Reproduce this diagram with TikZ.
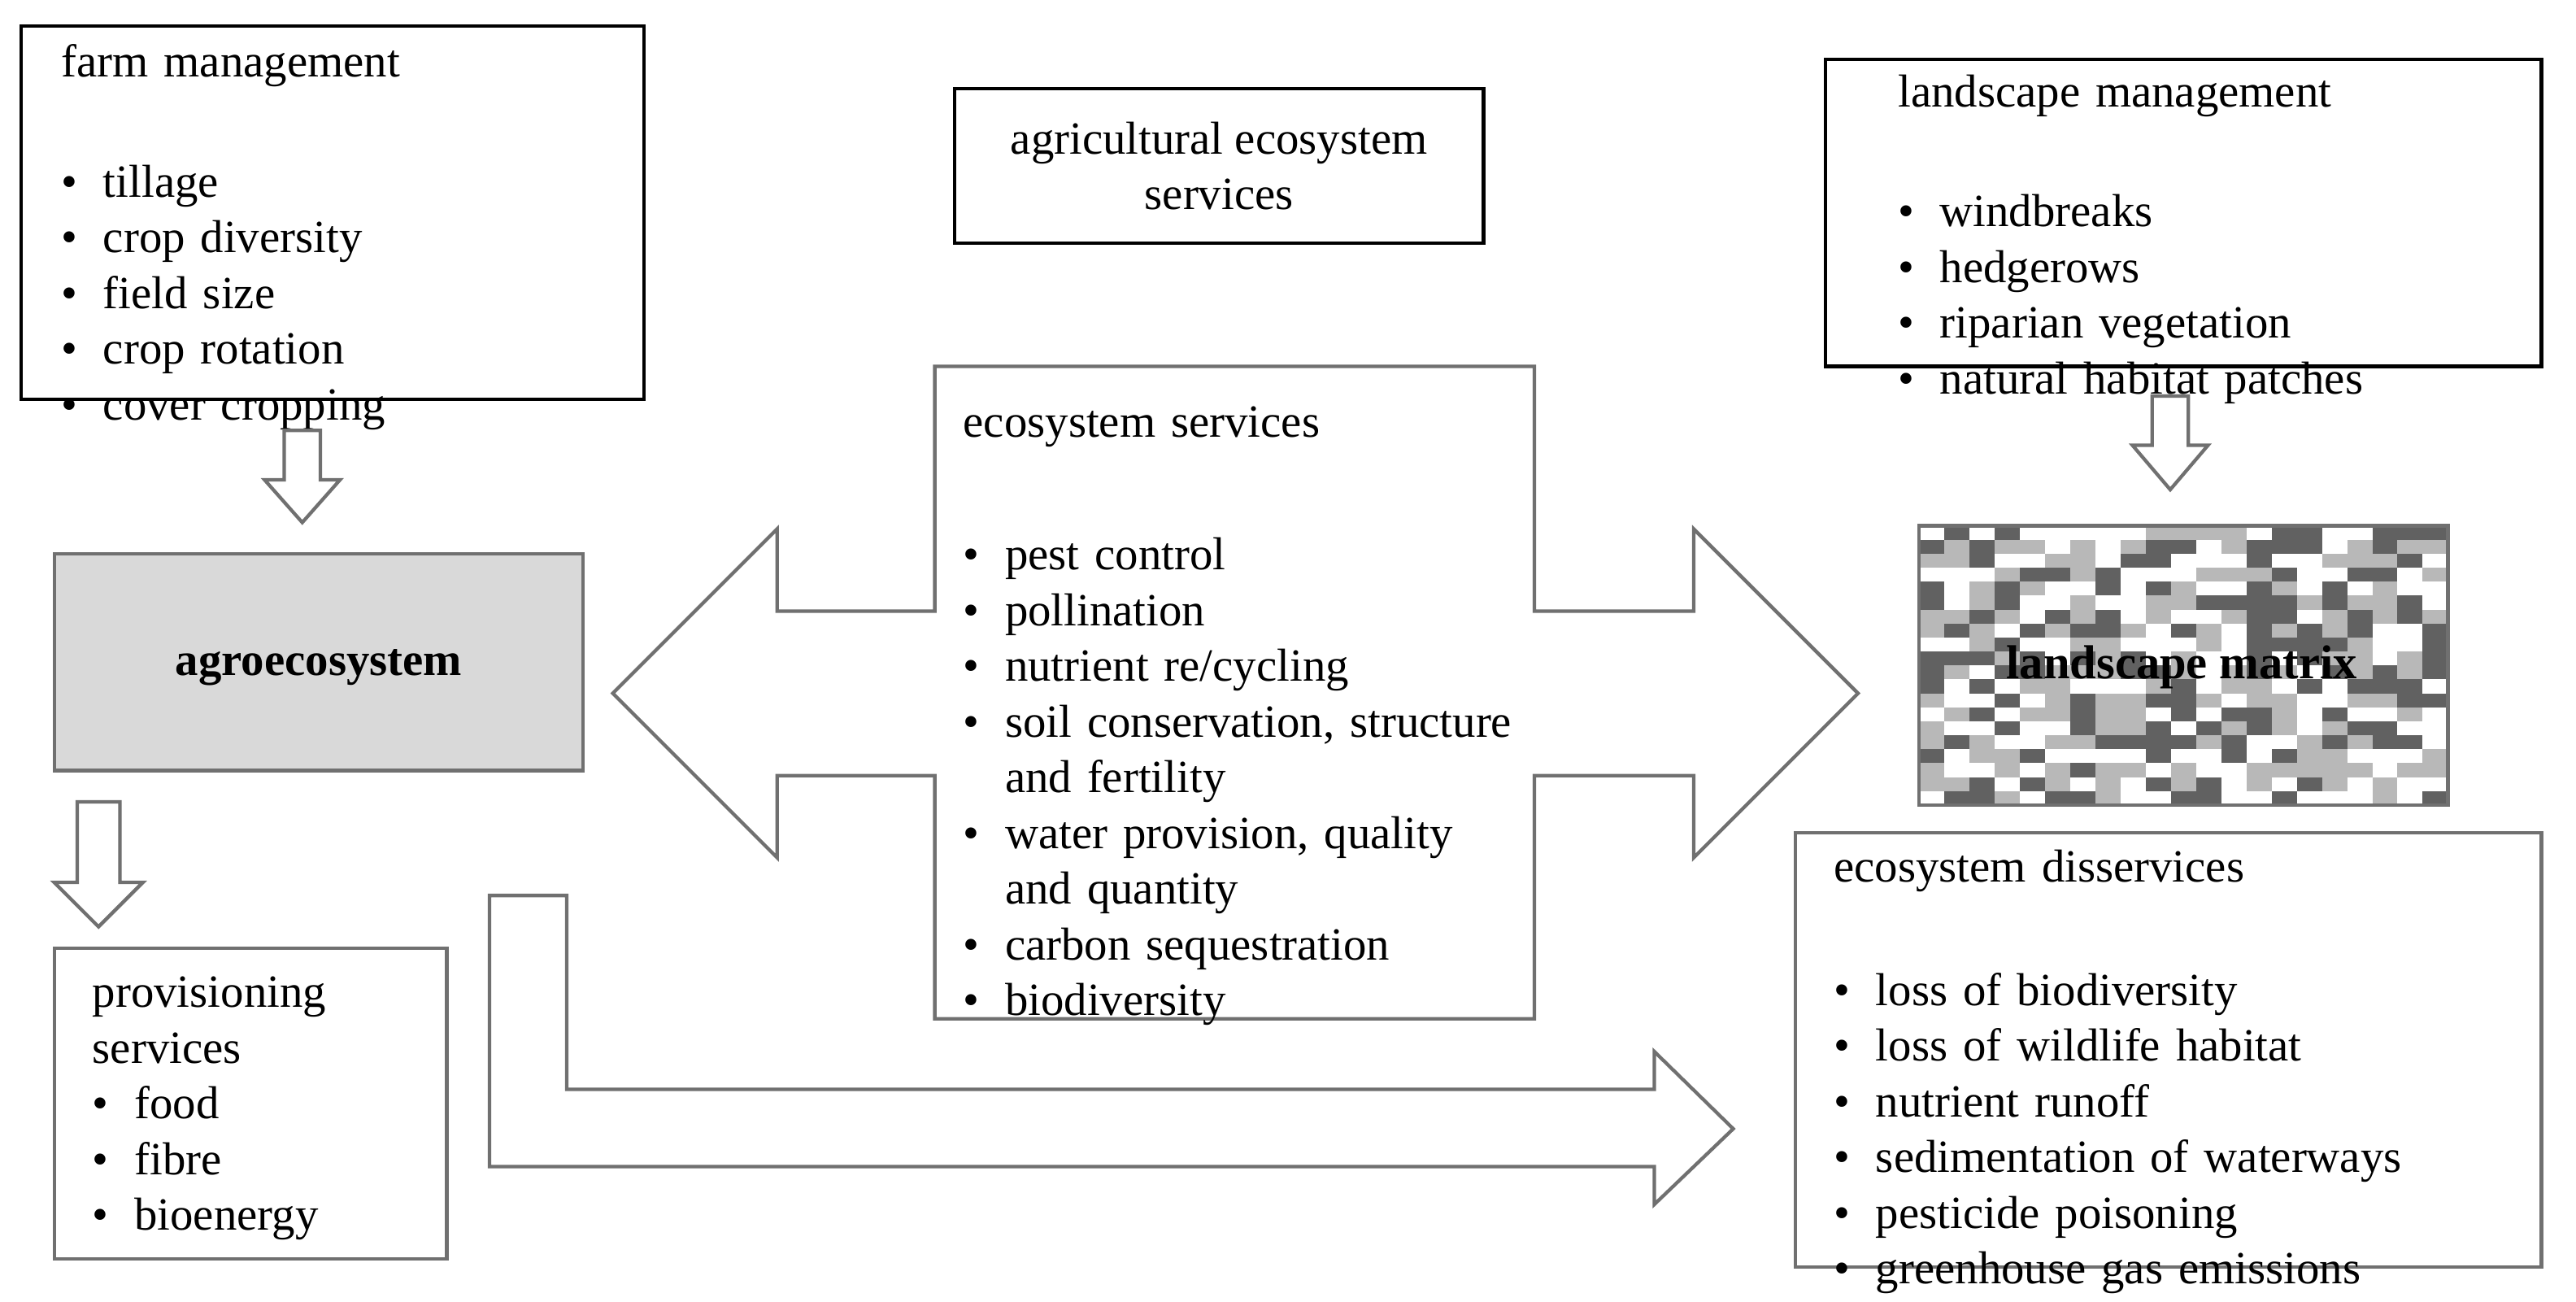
\documentclass[tikz,border=0pt]{standalone}
\usepackage{fontspec}
\setmainfont{Liberation Serif}
\usetikzlibrary{positioning, calc}
\definecolor{edgegray}{HTML}{707070}
\tikzset{
  blackbox/.style = {draw=black, line width=1.2pt},
  graybox/.style = {draw=edgegray, line width=1.2pt},
  txt/.style = {anchor=base west, inner sep=0pt, align=left, text width=9cm,
                font=\fontsize{16pt}{19.3pt}\selectfont},
  bigarrow/.style = {draw=edgegray, line width=1.2pt, fill=white, line join=miter}
}
\newcommand{\itm}[1]{\par\hangindent=14.5pt\leavevmode\hbox to 14.5pt{\textbullet\hfil}#1}

\begin{document}
\begin{tikzpicture}[x=0.02cm, y=-0.02cm]
  \useasboundingbox (0,0) rectangle (1568,792.4);

  % Top boxes
  \draw [blackbox] (13,16) rectangle (392,243);
  \node (farmtitle) [txt] at (37,47) {farm management};
  \node (farmlist) [txt] at (37,86) {\itm{tillage}\itm{crop diversity}\itm{field size}\itm{crop rotation}\itm{cover cropping}};

  \draw [blackbox] (581,54) rectangle (903,148);
  \node (agri) [align=center, inner sep=0pt, font=\fontsize{16pt}{19.3pt}\selectfont] at (742,101) {agricultural ecosystem\\services};

  \draw [blackbox] (1111,36) rectangle (1547,223);
  \node (landtitle) [txt] at (1155,65) {landscape management};
  \node (landlist) [txt] at (1155,104) {\itm{windbreaks}\itm{hedgerows}\itm{riparian vegetation}\itm{natural habitat patches}};

  % Down arrows
  \draw [bigarrow] (173,262) -- (195,262) -- (195,292) -- (207,292) -- (184,318) -- (161,292) -- (173,292) -- cycle;
  \draw [bigarrow] (1310,241) -- (1332,241) -- (1332,271) -- (1344,271) -- (1321,298) -- (1298,271) -- (1310,271) -- cycle;
  \draw [bigarrow] (47,488) -- (73,488) -- (73,537) -- (87,537) -- (60,564) -- (33,537) -- (47,537) -- cycle;

  % Agroecosystem
  \draw [graybox, fill=black!15] (33,337) rectangle (355,469);
  \node (agro) [font=\fontsize{16pt}{19.3pt}\selectfont\bfseries] at (194,406) {agroecosystem};

  % Central double arrow
  \draw [bigarrow] (569,223) -- (934,223) -- (934,372) -- (1031,372) -- (1031,322) -- (1131,422)
     -- (1031,522) -- (1031,472) -- (934,472) -- (934,620) -- (569,620) -- (569,472) -- (473,472)
     -- (473,522) -- (373,422) -- (473,322) -- (473,372) -- (569,372) -- cycle;
  \node (estitle) [txt] at (586,266) {ecosystem services};
  \node (eslist) [txt] at (586,313) {\itm{pest control}\itm{pollination}\itm{nutrient re/cycling}\itm{soil conservation, structure\newline and fertility}\itm{water provision, quality\newline and quantity}\itm{carbon sequestration}\itm{biodiversity}};

  % Landscape matrix
  \pgfmathsetseed{4711}
  \foreach \c in {0,...,20} {
    \foreach \r in {0,...,19} {
      \pgfmathrandominteger{\k}{0}{2}
      \ifcase\k\relax \def\cellcol{white}\or \def\cellcol{black!28}\else \def\cellcol{black!62}\fi
      \fill [\cellcol] ({1168+\c*322/21},{320+\r*8.5}) rectangle ({1168+(\c+1)*322/21},{320+(\r+1)*8.5});
    }
  }
  \draw [graybox] (1168,320) rectangle (1490,490);
  \node (matrix) [font=\fontsize{16.5pt}{19.3pt}\selectfont\bfseries] at (1328,406) {landscape matrix};

  % Provisioning services
  \draw [graybox] (33,577) rectangle (272,766);
  \node (prov) [txt] at (56,613) {provisioning\\services\itm{food}\itm{fibre}\itm{bioenergy}};

  % Bent arrow
  \draw [bigarrow] (298,545) -- (345,545) -- (345,663) -- (1007,663) -- (1007,640) -- (1055,687)
     -- (1007,733) -- (1007,710) -- (298,710) -- cycle;

  % Disservices
  \draw [graybox] (1093,507) rectangle (1547,771);
  \node (distitle) [txt] at (1116,537) {ecosystem disservices};
  \node (dislist) [txt] at (1116,578) {\itm{loss of biodiversity}\itm{loss of wildlife habitat}\itm{nutrient runoff}\itm{sedimentation of waterways}\itm{pesticide poisoning}\itm{greenhouse gas emissions}};
\end{tikzpicture}
\end{document}
